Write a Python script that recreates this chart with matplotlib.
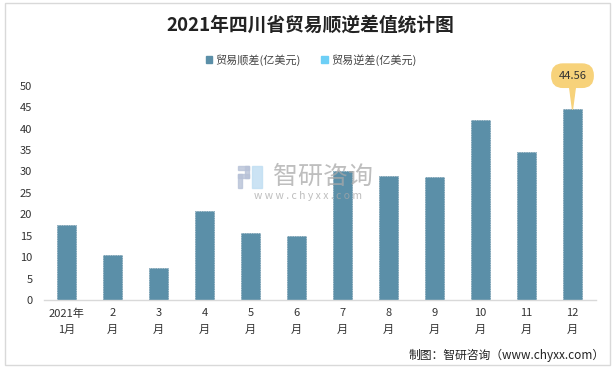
import matplotlib.pyplot as plt
from matplotlib.patches import Rectangle

plt.rcParams['font.family'] = ['Noto Sans CJK SC', 'DejaVu Sans']

months = ['2021年\n1月', '2\n月', '3\n月', '4\n月', '5\n月', '6\n月',
          '7\n月', '8\n月', '9\n月', '10\n月', '11\n月', '12\n月']
surplus = [17.5, 10.5, 7.47, 20.8, 15.6, 14.9, 30.1, 28.9, 28.7, 42.0, 34.5, 44.56]
series_names = ['贸易顺差(亿美元)', '贸易逆差(亿美元)']
yticks = [0, 5, 10, 15, 20, 25, 30, 35, 40, 45, 50]

bar_color = '#5B8FA8'
deficit_color = '#6DCFF6'

fig = plt.figure(figsize=(6.16, 3.68), dpi=100)
ax = fig.add_axes([43.5 / 616, 68 / 368, 552 / 616, 214.3 / 368])

x = list(range(len(months)))
ax.bar(x, surplus, width=0.4, color=bar_color, edgecolor='#4E7E96',
       linewidth=0.5, linestyle=(0, (1, 1.5)), zorder=2)

ax.set_xlim(-0.5, len(months) - 0.5)
ax.set_ylim(0, 50)
ax.set_yticks(yticks)
ax.set_xticks(x)
ax.set_xticklabels(months, fontsize=8, linespacing=1.75, color='#333333')
ax.tick_params(axis='y', labelsize=8, colors='#333333', length=0, pad=8)
ax.tick_params(axis='x', length=0, pad=6)
for s in ['top', 'right', 'left']:
    ax.spines[s].set_visible(False)
ax.spines['bottom'].set_color('#D9D9D9')
ax.spines['bottom'].set_linewidth(1)

# callout for the last bar
last = len(surplus) - 1
ax.annotate(f'{surplus[last]:.2f}', xy=(last, surplus[last]), xytext=(0, 24),
            textcoords='offset points', ha='center', va='center', fontsize=8,
            color='#333333',
            bbox=dict(boxstyle='round,pad=0.6,rounding_size=1.0',
                      fc='#F7D27A', ec='#F7D27A'),
            arrowprops=dict(arrowstyle='wedge,tail_width=0.5', fc='#F7D27A',
                            ec='#F7D27A', shrinkA=0, shrinkB=0), zorder=5)

# title and legend
fig.text(0.503, 1 - 25 / 368, '2021年四川省贸易顺逆差值统计图', ha='center', va='center',
         fontsize=13.5, fontweight='bold', color='#222222')
handles = [Rectangle((0, 0), 1, 1, color=bar_color),
           Rectangle((0, 0), 1, 1, color=deficit_color)]
fig.legend(handles, series_names, loc='center', bbox_to_anchor=(0.505, 1 - 60 / 368),
           ncol=2, frameon=False, fontsize=8, handlelength=0.6, handleheight=0.6,
           handletextpad=0.3, columnspacing=1.8, labelcolor='#444444')

# watermark
fig.text(323 / 616, 1 - 177 / 368, '智研咨询', ha='center', va='center', fontsize=18,
         color='#A8A8A8', alpha=0.75, zorder=10)
fig.text(308 / 616, 1 - 196 / 368, 'w w w . c h y x x . c o m', ha='center', va='center',
         fontsize=7.5, color='#A8A8A8', alpha=0.75, zorder=10)
for rx, ry, rw, rh, rc in [(238, 166, 11, 4, '#B8C2D8'), (245, 166, 4, 12, '#B8C2D8'),
                           (238, 174, 11, 4, '#B8C2D8'), (238, 174, 4, 14, '#B8C2D8'),
                           (252, 166, 10, 22, '#BFDDF2')]:
    fig.patches.append(Rectangle((rx / 616, 1 - (ry + rh) / 368), rw / 616, rh / 368,
                                 transform=fig.transFigure, color=rc, alpha=0.8,
                                 zorder=10))

# source
fig.text(605 / 616, 1 - 355 / 368, '制图：智研咨询（www.chyxx.com）', ha='right',
         va='center', fontsize=8.5, color='#222222')

# outer border
fig.patches.append(Rectangle((5 / 616, 3 / 368), 605 / 616, 362 / 368,
                             transform=fig.transFigure, fill=False,
                             ec='#D9D9D9', lw=1))

fig.savefig('out.png', dpi=100)
